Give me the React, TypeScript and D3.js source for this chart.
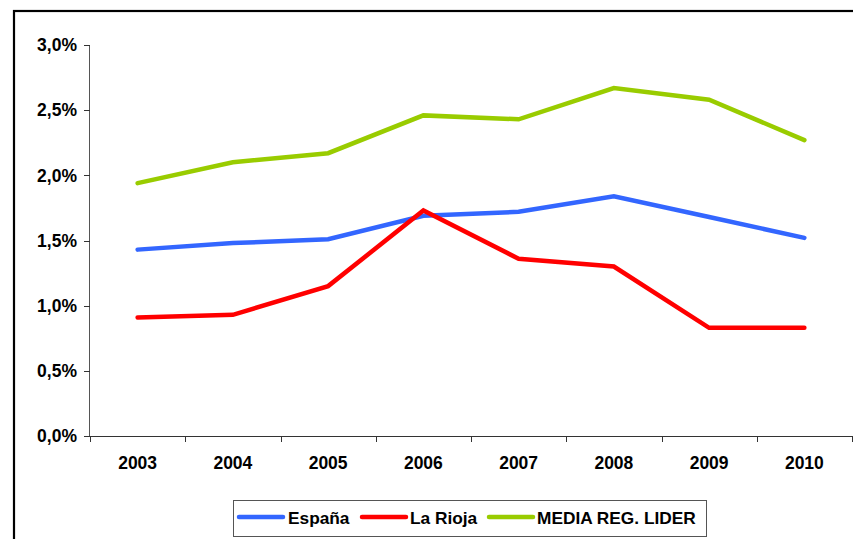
import React from "react";
import * as d3 from "d3";

const years = ["2003", "2004", "2005", "2006", "2007", "2008", "2009", "2010"];
const espana = [1.43, 1.48, 1.51, 1.69, 1.72, 1.84, 1.68, 1.52];
const laRioja = [0.91, 0.93, 1.15, 1.73, 1.36, 1.3, 0.83, 0.83];
const mediaLider = [1.94, 2.1, 2.17, 2.46, 2.43, 2.67, 2.58, 2.27];
const yTicks = [0, 0.5, 1.0, 1.5, 2.0, 2.5, 3.0];

const seriesNames = ["España", "La Rioja", "MEDIA REG. LIDER"];
const seriesColors = ["#3366FF", "#FF0000", "#99CC00"];
const seriesData = [espana, laRioja, mediaLider];

const W = 853;
const H = 539;
const left = 90;
const right = 852;
const top = 45;
const bottom = 436;
const font = "'Liberation Sans', Arial, Helvetica, sans-serif";

export default function App() {
  const x = d3.scaleBand().domain(years).range([left, right]);
  const y = d3.scaleLinear().domain([0, 3]).range([bottom, top]);
  const line = d3
    .line<number>()
    .x((_, i) => (x(years[i]) as number) + x.bandwidth() / 2)
    .y((d) => y(d));

  const fmt = (v: number) => v.toFixed(1).replace(".", ",") + "%";
  const tickXs = years.map((yr) => x(yr) as number).concat([right]);

  const legendItems = [
    { lx: 239, tx: 288 },
    { lx: 362, tx: 410 },
    { lx: 489, tx: 537 },
  ];

  return (
    <svg
      width={W}
      height={H}
      style={{ position: "fixed", left: 0, top: 0, background: "#fff" }}
      fontFamily={font}
    >
      <rect x={0} y={0} width={W} height={H} fill="#fff" />
      <rect x={14} y={11} width={900} height={600} fill="none" stroke="#000" strokeWidth={2.2} />

      {/* y axis */}
      <line x1={left - 0.5} x2={left - 0.5} y1={top} y2={bottom} stroke="#555" strokeWidth={1} />
      {yTicks.map((t) => (
        <g key={t}>
          <line x1={left - 6} x2={left} y1={Math.round(y(t)) + 0.5} y2={Math.round(y(t)) + 0.5} stroke="#333" />
          <text
            x={77}
            y={y(t)}
            dy="0.36em"
            textAnchor="end"
            fontSize={17.5}
            fontWeight="bold"
            fill="#000"
          >
            {fmt(t)}
          </text>
        </g>
      ))}

      {/* x axis */}
      <line x1={left} x2={right} y1={bottom + 0.5} y2={bottom + 0.5} stroke="#333" strokeWidth={1} />
      {tickXs.map((tx, i) => (
        <line key={i} x1={Math.round(tx) + 0.5} x2={Math.round(tx) + 0.5} y1={bottom} y2={bottom + 6} stroke="#333" />
      ))}
      {years.map((yr) => (
        <text
          key={yr}
          x={(x(yr) as number) + x.bandwidth() / 2}
          y={463}
          dy="0.36em"
          textAnchor="middle"
          fontSize={17.5}
          fontWeight="bold"
          fill="#000"
        >
          {yr}
        </text>
      ))}

      {/* lines */}
      {seriesData.map((d, i) => (
        <path
          key={seriesNames[i]}
          d={line(d) || ""}
          fill="none"
          stroke={seriesColors[i]}
          strokeWidth={4.5}
          strokeLinejoin="miter"
          strokeLinecap="round"
        />
      ))}

      {/* legend */}
      <rect x={233.5} y={500.5} width={473} height={36} fill="#fff" stroke="#555" strokeWidth={1} />
      {seriesNames.map((n, i) => (
        <g key={n}>
          <line
            x1={legendItems[i].lx}
            x2={legendItems[i].lx + 44}
            y1={517}
            y2={517}
            stroke={seriesColors[i]}
            strokeWidth={4.5}
            strokeLinecap="round"
          />
          <text
            x={legendItems[i].tx}
            y={518}
            dy="0.36em"
            fontSize={17.3}
            fontWeight="bold"
            fill="#000"
          >
            {n}
          </text>
        </g>
      ))}
    </svg>
  );
}
